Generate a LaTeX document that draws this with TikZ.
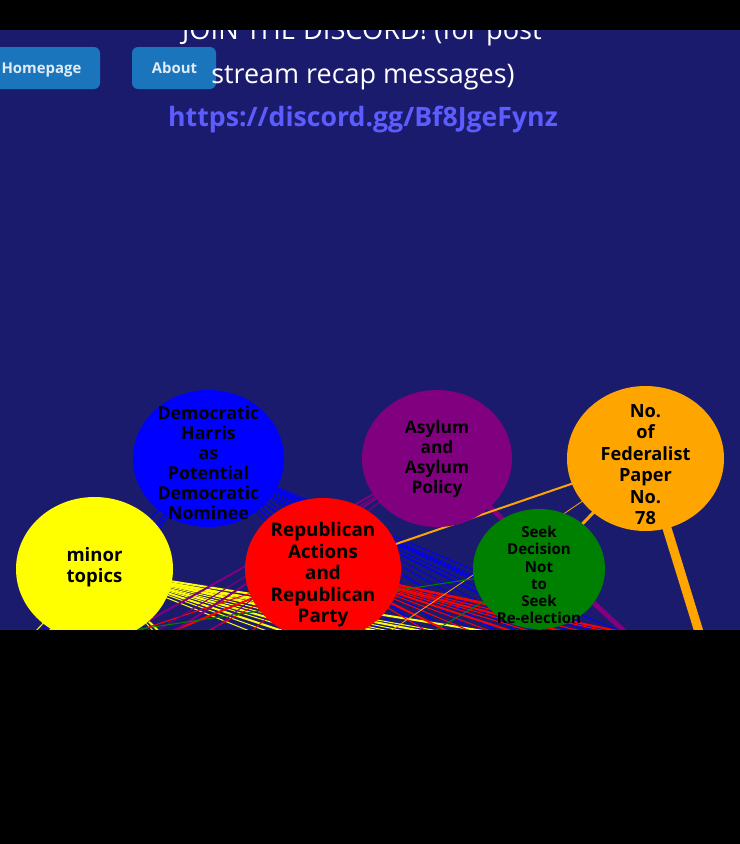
\documentclass[tikz,border=0pt]{standalone}
\usepackage{fontspec}
\setmainfont{Open Sans}
\usetikzlibrary{shapes.geometric}
\definecolor{navy}{RGB}{27,27,110}
\definecolor{btn}{RGB}{27,117,188}
\definecolor{btntext}{RGB}{225,235,245}
\definecolor{linkc}{RGB}{92,92,255}
\definecolor{tblue}{RGB}{0,0,255}
\definecolor{tyellow}{RGB}{255,255,0}
\definecolor{tred}{RGB}{255,0,0}
\definecolor{tpurple}{RGB}{128,0,128}
\definecolor{torange}{RGB}{255,165,0}
\definecolor{tgreen}{RGB}{0,128,0}
\pgfdeclarelayer{bg}\pgfdeclarelayer{edges}\pgfdeclarelayer{fg}
\pgfsetlayers{bg,edges,main,fg}
\tikzset{
  topic/.style={ellipse, inner sep=0pt, draw=none},
  topictext/.style={align=center, text=black, font=\bfseries},
  btnlabel/.style={text=btntext, anchor=base, font=\bfseries\fontsize{11.2pt}{13pt}\selectfont},
  headline/.style={text=white, anchor=base, font=\fontsize{20.4pt}{24pt}\selectfont},
}
\begin{document}
\begin{tikzpicture}[x=0.75pt,y=-0.75pt]
\useasboundingbox (0,0) rectangle (740,844);
\begin{pgfonlayer}{bg}
  \fill[black] (0,0) rectangle (740,844);
  \fill[navy] (0,30) rectangle (740,630);
\end{pgfonlayer}

% topic nodes
\node[topic, fill=tblue, minimum width=113.25pt, minimum height=102.75pt,
  label={[topictext, yshift=-3.5pt, font=\bfseries\fontsize{13.3pt}{15pt}\selectfont]center:Democratic\\Harris\\as\\Potential\\Democratic\\Nominee}]
  (dem) at (208.5,458.5) {};
\node[topic, fill=tyellow, minimum width=117.75pt, minimum height=108pt,
  label={[topictext, yshift=1.5pt, font=\bfseries\fontsize{13.9pt}{15.75pt}\selectfont]center:minor\\topics}]
  (minor) at (94.5,569) {};
\node[topic, fill=tred, minimum width=117pt, minimum height=106.5pt,
  label={[topictext, yshift=-4.5pt, font=\bfseries\fontsize{14.1pt}{16.1pt}\selectfont]center:Republican\\Actions\\and\\Republican\\Party}]
  (rep) at (323,569) {};
\node[topic, fill=tpurple, minimum width=112.5pt, minimum height=102.75pt,
  label={[topictext, yshift=-0.5pt, font=\bfseries\fontsize{13pt}{15pt}\selectfont]center:Asylum\\and\\Asylum\\Policy}]
  (asy) at (437,458.5) {};
\node[topic, fill=torange, minimum width=117.75pt, minimum height=108.75pt,
  label={[topictext, yshift=-4.5pt, font=\bfseries\fontsize{13.65pt}{16.1pt}\selectfont]center:No.\\of\\Federalist\\Paper\\No.\\78}]
  (fed) at (645.5,458.5) {};
\node[topic, fill=tgreen, minimum width=99pt, minimum height=90pt,
  label={[topictext, yshift=-4.5pt, font=\bfseries\fontsize{11.3pt}{12.9pt}\selectfont]center:Seek\\Decision\\Not\\to\\Seek\\Re-election}]
  (seek) at (539,569) {};

% edges
\begin{pgfonlayer}{edges}
  \foreach \x/\y/\w [count=\i] in {832/720/0.75, 803/720/0.6, 790/720/1.2, 778/720/0.6, 754/720/0.75, 732/720/1.2, 702/720/0.6, 676/720/0.75, 645/720/1.2, 611/720/0.6, 572/720/0.75, 535/720/1.2, 499/720/0.6, 470/720/0.75, 446/720/0.6}{
    \coordinate (bR\i) at (\x,\y);
    \draw[tblue, line width=\w pt] (dem.center) -- (bR\i);
  }
  \foreach \x/\y [count=\i] in {0/720, 12/720, 25/720, -25/700}{
    \coordinate (bL\i) at (\x,\y);
    \draw[tblue, line width=0.75pt] (dem.center) -- (bL\i);
  }
  \foreach \x/\y/\w [count=\i] in {760/675/1.5, 760/689/0.75, 760/695/1.5, 760/702/0.75, 760/709/0.75, 760/715/1.5, 760/729/0.75, 760/742/0.75, 760/755/1.5, 760/769/0.75, 760/788/1.5, 760/808/0.75, 760/835/0.75, 200/680/0.75, 230/700/1.5, 180/700/0.75, -20/690/0.75, 0/700/1.5}{
    \coordinate (yR\i) at (\x,\y);
    \draw[tyellow, line width=\w pt] (minor.center) -- (yR\i);
  }
  \foreach \x/\y/\w [count=\i] in {760/661/1.5, 760/665/0.75, 760/674/0.75, 760/683/1.5, 760/691/0.75, 760/700/0.75, 760/713/1.5, 760/731/0.75, 760/753/0.75, 760/787/1.5, 760/831/0.75, -10/680/0.75, 30/690/1.5, 80/700/0.75, 150/720/0.75}{
    \coordinate (rR\i) at (\x,\y);
    \draw[tred, line width=\w pt] (rep.center) -- (rR\i);
  }
  \foreach \x/\y/\w [count=\i] in {100/648/1.5, 100/666/0.75, 100/680/1.5, 120/700/0.75}{
    \coordinate (pL\i) at (\x,\y);
    \draw[tpurple, line width=\w pt] (asy.center) -- (pL\i);
  }
  \coordinate (pR) at (700,701);
  \draw[tpurple, line width=3.75pt] (asy.center) -- (pR);
  \coordinate (oD) at (720,700);
  \draw[torange, line width=6.75pt] (fed.center) -- (oD);
  \draw[torange, line width=1.5pt] (fed.center) -- (rep.center);
  \draw[torange, line width=2.25pt] (fed.center) -- (seek.center);
  \coordinate (oL) at (300,692);
  \draw[torange, line width=0.6pt] (fed.center) -- (oL);
  \coordinate (gL1) at (100,635);
  \coordinate (gL2) at (300,710);
  \draw[tgreen, line width=0.75pt] (seek.center) -- (gL1);
  \draw[tgreen, line width=0.75pt] (seek.center) -- (gL2);
\end{pgfonlayer}

% header
\fill[btn, rounded corners=4.5pt] (-10,47) rectangle (100,89);
\node[btnlabel] (home) at (41.5,73.5) {Homepage};
\fill[btn, rounded corners=4.5pt] (132,47) rectangle (216,89);
\node[btnlabel] (about) at (174.5,73.5) {About};
\node[headline] (join) at (362,39) {JOIN THE DISCORD! (for post};
\node[headline, font=\fontsize{20.2pt}{24pt}\selectfont] (recap) at (363,83) {stream recap messages)};
\node[headline, text=linkc, font=\bfseries\fontsize{20pt}{24pt}\selectfont] (url) at (363,126) {https://discord.gg/Bf8JgeFynz};

\begin{pgfonlayer}{fg}
  \fill[black] (0,0) rectangle (740,30);
  \fill[black] (0,630) rectangle (740,844);
\end{pgfonlayer}
\end{tikzpicture}
\end{document}
